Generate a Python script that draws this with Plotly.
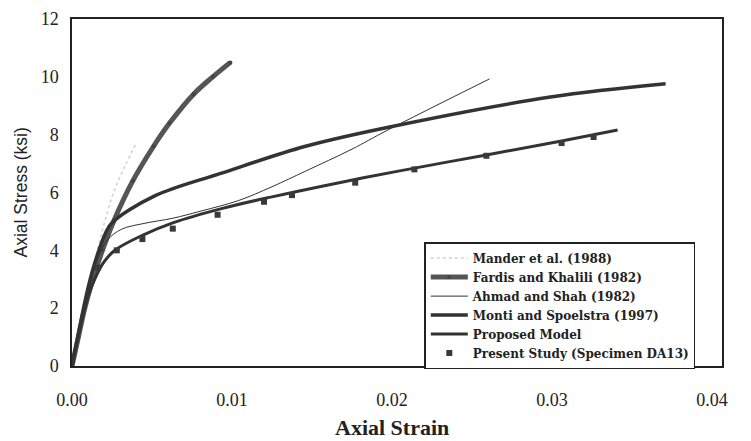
import plotly.graph_objects as go

# Data
mander_x = [0.0, 0.0005, 0.001, 0.0015, 0.002, 0.0026, 0.0033, 0.0040]
mander_y = [0.0, 1.4, 2.7, 3.8, 4.9, 6.0, 6.9, 7.7]

fardis_x = [0.0, 0.0004, 0.0008, 0.0013, 0.0019, 0.0026, 0.0038, 0.0051, 0.0061, 0.0076, 0.0088, 0.0099]
fardis_y = [0.0, 1.0, 2.0, 3.0, 4.0, 5.0, 6.4, 7.6, 8.4, 9.4, 10.0, 10.5]

ahmad_x = [0.0, 0.0005, 0.001, 0.0015, 0.0022, 0.0031, 0.0045, 0.0063, 0.008, 0.0104, 0.0125, 0.0146, 0.0175, 0.0197, 0.0261]
ahmad_y = [0.0, 1.4, 2.7, 3.6, 4.35, 4.73, 4.93, 5.11, 5.35, 5.72, 6.2, 6.74, 7.5, 8.15, 9.93]

monti_x = [0.0, 0.0005, 0.001, 0.0015, 0.0021, 0.0025, 0.0052, 0.0094, 0.0146, 0.0197, 0.0299, 0.0371]
monti_y = [0.0, 1.4, 2.7, 3.7, 4.6, 4.95, 5.89, 6.68, 7.6, 8.25, 9.3, 9.76]

prop_x = [0.0, 0.0005, 0.001, 0.0015, 0.002, 0.0027, 0.0044, 0.0063, 0.0094, 0.0125, 0.0167, 0.0204, 0.0259, 0.0306, 0.0341]
prop_y = [0.0, 1.3, 2.4, 3.1, 3.6, 4.01, 4.52, 4.95, 5.45, 5.85, 6.34, 6.74, 7.3, 7.78, 8.16]

test_x = [0.0016, 0.0028, 0.0044, 0.0063, 0.0091, 0.012, 0.01375, 0.0177, 0.0214, 0.0259, 0.0306, 0.0326]
test_y = [3.4, 4.0, 4.39, 4.75, 5.23, 5.68, 5.91, 6.34, 6.8, 7.27, 7.71, 7.92]

x_ticks = [0.0, 0.01, 0.02, 0.03, 0.04]
x_tick_labels = ["0.00", "0.01", "0.02", "0.03", "0.04"]
y_ticks = [0, 2, 4, 6, 8, 10, 12]

serif = "Liberation Serif, Times New Roman, serif"
ink = "#222222"

fig = go.Figure()
fig.add_trace(go.Scatter(x=mander_x, y=mander_y, mode="lines", name="Mander et al. (1988)",
                         line=dict(color="#d0d0d0", width=1.5, dash="dot"), line_shape="spline"))
fig.add_trace(go.Scatter(x=fardis_x, y=fardis_y, mode="lines+markers", name="Fardis and Khalili (1982)",
                         line=dict(color="#555555", width=5), line_shape="spline",
                         marker=dict(color="#444444", size=4, symbol="circle")))
fig.add_trace(go.Scatter(x=ahmad_x, y=ahmad_y, mode="lines", name="Ahmad and Shah (1982)",
                         line=dict(color="#333333", width=1), line_shape="spline"))
fig.add_trace(go.Scatter(x=monti_x, y=monti_y, mode="lines", name="Monti and Spoelstra (1997)",
                         line=dict(color="#333333", width=3.5), line_shape="spline"))
fig.add_trace(go.Scatter(x=prop_x, y=prop_y, mode="lines", name="Proposed Model",
                         line=dict(color="#333333", width=3), line_shape="spline"))
fig.add_trace(go.Scatter(x=test_x, y=test_y, mode="markers", name="Present Study (Specimen DA13)",
                         marker=dict(color="#3a3a3a", size=6, symbol="square")))

# page body has an 8px margin, so the figure is sized to fit the window with it
fig.update_layout(
    width=743, height=433,
    margin=dict(l=64, r=29, t=11, b=75),
    paper_bgcolor="white", plot_bgcolor="white",
    font=dict(family=serif, color=ink, size=14),
    showlegend=True,
    legend=dict(x=0.542, y=0.357, xanchor="left", yanchor="top",
                bgcolor="white", bordercolor=ink, borderwidth=1.5,
                font=dict(family="DejaVu Serif, serif", size=12, color=ink, weight="bold"),
                tracegroupgap=0, itemwidth=37),
    xaxis=dict(range=[0, 0.040625], tickvals=x_ticks, ticktext=x_tick_labels,
               showgrid=False, zeroline=False, showline=True, linecolor=ink,
               linewidth=1.5, mirror=True, ticks="", ticklabelstandoff=17, automargin=False,
               ticklabeloverflow="allow",
               tickfont=dict(family=serif, size=18, color=ink)),
    yaxis=dict(range=[0, 12], tickvals=y_ticks,
               showgrid=False, zeroline=False, showline=True, linecolor=ink,
               linewidth=1.5, mirror=True, ticks="", ticklabelstandoff=8, automargin=False,
               ticklabeloverflow="allow",
               tickfont=dict(family=serif, size=18, color=ink)),
)
fig.add_annotation(text="<b>Axial Strain</b>", xref="paper", yref="paper", x=0.492, y=-0.178,
                   xanchor="center", yanchor="middle", showarrow=False,
                   font=dict(family=serif, size=22, color=ink))
fig.add_annotation(text="Axial Stress (ksi)", xref="paper", yref="paper", x=-0.08, y=0.5,
                   xanchor="center", yanchor="middle", textangle=-90, showarrow=False,
                   font=dict(family="Liberation Sans, sans-serif", size=17.5, color=ink))

fig.write_html("out.html")
